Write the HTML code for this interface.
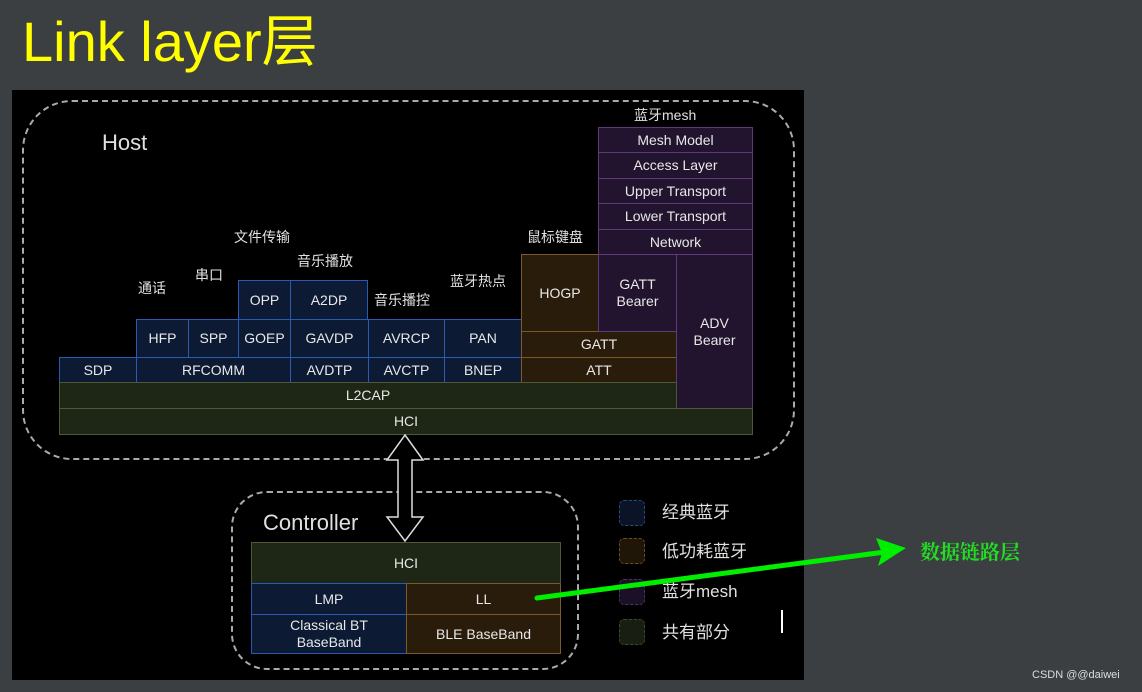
<!DOCTYPE html><html><head><meta charset="utf-8"><style>
body{margin:0;width:1142px;height:692px;background:#3c3f41;position:relative;overflow:hidden;font-family:"Liberation Sans","Noto Sans CJK SC",sans-serif}
.a{position:absolute;box-sizing:border-box;color:#e8e8e8;font-size:14px;display:flex;align-items:center;justify-content:center;text-align:center;line-height:17px}
.b{background:#0c1a33;border:1.5px solid #2a5bb0}
.o{background:#2a1c0a;border:1.5px solid #7a5a2a}
.p{background:#22142e;border:1.5px solid #5e3a7a}
.g{background:#1e2616;border:1.5px solid #4e5a36}
.t{position:absolute;color:#e0e0e0;font-size:14px;white-space:nowrap}
.lg{position:absolute;width:26px;height:26px;border:1.5px dashed;border-radius:5px;box-sizing:border-box}
</style></head><body>
<div class="t" style="left:22px;top:9px;font-size:56px;color:#ffff00;line-height:66px">Link layer层</div>
<div style="position:absolute;left:12px;top:90px;width:792px;height:590px;background:#000"></div>
<div style="position:absolute;left:22px;top:100px;width:773px;height:360px;border:2px dashed #aaa;border-radius:50px;box-sizing:border-box"></div>
<div style="position:absolute;left:231px;top:491px;width:348px;height:179px;border:2px dashed #aaa;border-radius:36px;box-sizing:border-box"></div>
<div class="t" style="left:102px;top:130px;font-size:22px">Host</div>
<div class="t" style="left:263px;top:510px;font-size:22px">Controller</div>
<div class="t" style="left:234px;top:227px">文件传输</div>
<div class="t" style="left:297px;top:251px">音乐播放</div>
<div class="t" style="left:195px;top:265px">串口</div>
<div class="t" style="left:138px;top:278px">通话</div>
<div class="t" style="left:374px;top:290px">音乐播控</div>
<div class="t" style="left:450px;top:271px">蓝牙热点</div>
<div class="t" style="left:527px;top:227px">鼠标键盘</div>
<div class="t" style="left:634px;top:105px">蓝牙mesh</div>
<div class="a b" style="left:238px;top:280px;width:53px;height:40px">OPP</div>
<div class="a b" style="left:290px;top:280px;width:78px;height:40px">A2DP</div>
<div class="a b" style="left:136px;top:319px;width:53px;height:39px">HFP</div>
<div class="a b" style="left:188px;top:319px;width:51px;height:39px">SPP</div>
<div class="a b" style="left:238px;top:319px;width:53px;height:39px">GOEP</div>
<div class="a b" style="left:290px;top:319px;width:79px;height:39px">GAVDP</div>
<div class="a b" style="left:368px;top:319px;width:77px;height:39px">AVRCP</div>
<div class="a b" style="left:444px;top:319px;width:78px;height:39px">PAN</div>
<div class="a b" style="left:59px;top:357px;width:78px;height:26px">SDP</div>
<div class="a b" style="left:136px;top:357px;width:155px;height:26px">RFCOMM</div>
<div class="a b" style="left:290px;top:357px;width:79px;height:26px">AVDTP</div>
<div class="a b" style="left:368px;top:357px;width:77px;height:26px">AVCTP</div>
<div class="a b" style="left:444px;top:357px;width:78px;height:26px">BNEP</div>
<div class="a o" style="left:521px;top:254px;width:78px;height:78px">HOGP</div>
<div class="a o" style="left:521px;top:331px;width:156px;height:27px">GATT</div>
<div class="a o" style="left:521px;top:357px;width:156px;height:26px">ATT</div>
<div class="a p" style="left:598px;top:127px;width:155px;height:26px">Mesh Model</div>
<div class="a p" style="left:598px;top:152px;width:155px;height:27px">Access Layer</div>
<div class="a p" style="left:598px;top:178px;width:155px;height:26px">Upper Transport</div>
<div class="a p" style="left:598px;top:203px;width:155px;height:27px">Lower Transport</div>
<div class="a p" style="left:598px;top:229px;width:155px;height:26px">Network</div>
<div class="a p" style="left:598px;top:254px;width:79px;height:78px">GATT<br>Bearer</div>
<div class="a p" style="left:676px;top:254px;width:77px;height:155px">ADV<br>Bearer</div>
<div class="a g" style="left:59px;top:382px;width:618px;height:27px">L2CAP</div>
<div class="a g" style="left:59px;top:408px;width:694px;height:27px">HCI</div>
<div class="a g" style="left:251px;top:542px;width:310px;height:42px">HCI</div>
<div class="a b" style="left:251px;top:583px;width:156px;height:32px">LMP</div>
<div class="a o" style="left:406px;top:583px;width:155px;height:32px">LL</div>
<div class="a b" style="left:251px;top:614px;width:156px;height:40px">Classical BT<br>BaseBand</div>
<div class="a o" style="left:406px;top:614px;width:155px;height:40px">BLE BaseBand</div>
<div class="lg" style="left:619px;top:500px;border-color:#2a4a80;background:#0a1426"></div>
<div class="lg" style="left:619px;top:538px;border-color:#6a4e26;background:#201608"></div>
<div class="lg" style="left:619px;top:579px;border-color:#4e3266;background:#1c1026"></div>
<div class="lg" style="left:619px;top:619px;border-color:#3e4a2c;background:#181e12"></div>
<div class="t" style="left:662px;top:498px;font-size:17px">经典蓝牙</div>
<div class="t" style="left:662px;top:537px;font-size:17px">低功耗蓝牙</div>
<div class="t" style="left:662px;top:577px;font-size:17px">蓝牙mesh</div>
<div class="t" style="left:662px;top:618px;font-size:17px">共有部分</div>
<div style="position:absolute;left:781px;top:610px;width:2px;height:23px;background:#fff"></div>
<svg style="position:absolute;left:0;top:0" width="1142" height="692">
<polygon points="405,435 423,460 412,460 412,517 423,517 405,541 387,517 398,517 398,460 387,460" fill="#000" stroke="#ddd" stroke-width="1.5"/>
<line x1="537" y1="598" x2="885" y2="552" stroke="#00ee00" stroke-width="5" stroke-linecap="round"/>
<polygon points="906,548 876,538 882,553 878,566" fill="#00ee00"/>
</svg>
<div class="t" style="left:920px;top:536px;font-size:20px;color:#22dd22;font-weight:bold;font-family:'Noto Serif CJK SC',serif">数据链路层</div>
<div class="t" style="left:1032px;top:669px;font-size:11px;color:#ddd">CSDN @@daiwei</div>
</body></html>
